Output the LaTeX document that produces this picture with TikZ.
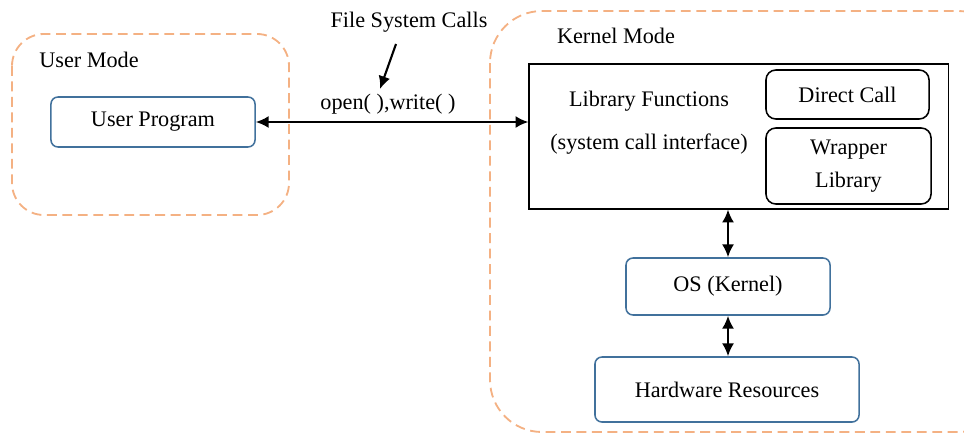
\documentclass[tikz,border=0pt]{standalone}
\usepackage{fontspec}
\setmainfont{Liberation Serif}
\usetikzlibrary{arrows.meta}

\definecolor{modeorange}{RGB}{244,177,131}
\definecolor{boxblue}{RGB}{65,113,156}

\begin{document}
\begin{tikzpicture}[x=0.025cm,y=-0.025cm]
\clip (0,0) rectangle (964,434);
\tikzstyle{every node}=[font=\fontsize{15.8}{21}\selectfont, inner sep=0pt];
\tikzstyle{mode}=[draw=modeorange, line width=1.3pt, dash pattern=on 7pt off 4pt];
\tikzstyle{bluebox}=[draw=boxblue, line width=1.1pt, rounded corners=5pt];
\tikzstyle{blackbox}=[draw, line width=1.1pt, rounded corners=7pt];
\tikzstyle{link}=[line width=1.5pt, {Latex[length=3.2mm,width=3mm]}-{Latex[length=3.2mm,width=3mm]}];

% user side
\draw[mode, rounded corners=0.8cm] (12,34) rectangle (289,215);
\draw (89,60) node (usermode) {User Mode};
\draw (153,122) node[bluebox, minimum width=5.1cm, minimum height=1.25cm] (prog) {User Program};

% kernel side
\draw[mode, rounded corners=1.3cm] (490,11) rectangle (1010,432);
\draw (616,36) node (kernelmode) {Kernel Mode};
\draw (738.5,136.5) node[draw, line width=0.8pt, minimum width=10.475cm, minimum height=3.625cm] (lib) {};
\draw (649,101) node (libname) {Library Functions};
\draw (649,144) node (libsub) {(system call interface)};
\draw (847.5,94.5) node[blackbox, minimum width=4.075cm, minimum height=1.225cm] (direct) {Direct Call};
\draw (848.5,166) node[blackbox, minimum width=4.125cm, minimum height=1.9cm, align=center] (wrapper) {Wrapper\\[2pt]Library};
\draw (728,286.5) node[bluebox, minimum width=5.1cm, minimum height=1.425cm] (os) {OS (Kernel)};
\draw (727,389.5) node[bluebox, minimum width=6.6cm, minimum height=1.625cm] (hw) {Hardware Resources};

% calls
\draw (409,22) node (fsc) {File System Calls};
\draw (388,104) node (calls) {open( ),write( )};
\coordinate (fscfrom) at (396,44);
\coordinate (fscto) at (380,89);
\draw[line width=1.5pt, -{Latex[length=3.2mm,width=3mm]}] (fscfrom) -- (fscto);
\draw[link] (prog.east) -- (prog.east -| lib.west);
\draw[link] (os.north |- lib.south) -- (os.north);
\draw[link] (os.south) -- (os.south |- hw.north);
\end{tikzpicture}
\end{document}
